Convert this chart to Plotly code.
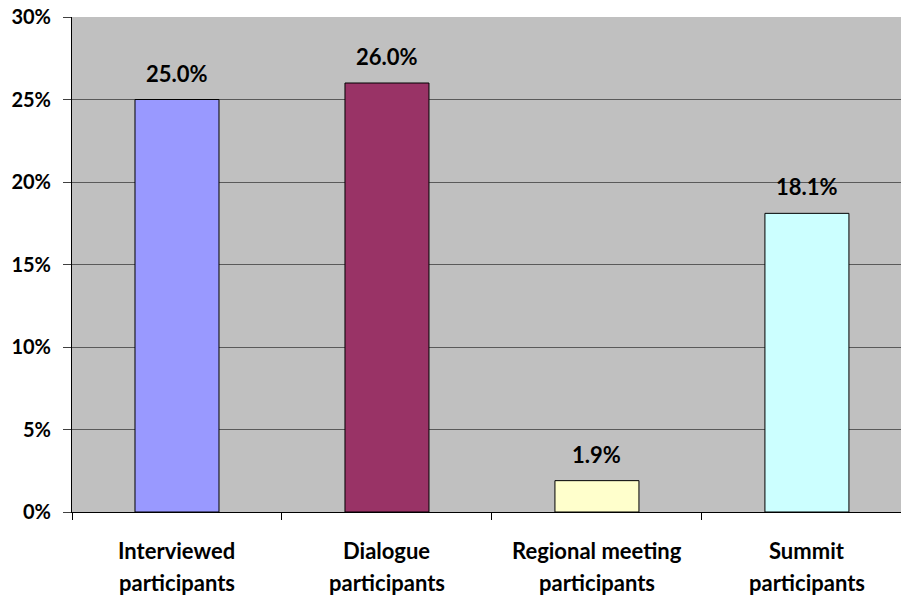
import plotly.graph_objects as go

categories = ["Interviewed participants", "Dialogue participants",
              "Regional meeting participants", "Summit participants"]
label_line1 = ["Interviewed", "Dialogue", "Regional meeting", "Summit"]
label_line2 = ["participants", "participants", "participants", "participants"]
values = [25.0, 26.0, 1.9, 18.1]
colors = ["#9999FF", "#993366", "#FFFFCC", "#CCFFFF"]
y_ticks = [0, 5, 10, 15, 20, 25, 30]
y_ticktext = ["0%", "5%", "10%", "15%", "20%", "25%", "30%"]

FONT = "Lato, 'Open Sans', sans-serif"

fig = go.Figure()
fig.add_trace(go.Bar(
    x=categories, y=values,
    marker=dict(color=colors, line=dict(color="#000000", width=1)),
    width=0.4,
    hoverinfo="skip",
))

annotations = []
for c, v in zip(categories, values):
    annotations.append(dict(
        x=c, y=v, xref="x", yref="y", text=f"<b>{v:.1f}%</b>",
        showarrow=False, yanchor="bottom", yshift=11,
        font=dict(family=FONT, size=22, color="#000000"),
    ))
for c, l1, l2 in zip(categories, label_line1, label_line2):
    annotations.append(dict(
        x=c, y=0, xref="x", yref="paper", text=f"<b>{l1}</b>",
        showarrow=False, yanchor="middle", yshift=-38,
        font=dict(family=FONT, size=22, color="#000000"),
    ))
    annotations.append(dict(
        x=c, y=0, xref="x", yref="paper", text=f"<b>{l2}</b>",
        showarrow=False, yanchor="middle", yshift=-70,
        font=dict(family=FONT, size=22, color="#000000"),
    ))

fig.update_layout(
    width=901, height=596,
    margin=dict(l=72, r=0, t=17, b=84, pad=0),
    paper_bgcolor="#FFFFFF",
    plot_bgcolor="#C0C0C0",
    showlegend=False,
    annotations=annotations,
    xaxis=dict(
        type="category", showticklabels=False,
        range=[-0.5, 3.448],
        ticks="outside", tickson="boundaries", ticklen=7,
        tickcolor="#000000", tickwidth=1,
        showline=True, linecolor="#000000", linewidth=1,
        showgrid=False, zeroline=False,
    ),
    yaxis=dict(
        range=[0, 30], tickvals=y_ticks, ticktext=y_ticktext,
        ticks="outside", ticklen=8, tickcolor="#404040", tickwidth=1,
        ticklabelstandoff=8,
        showline=True, linecolor="#000000", linewidth=1,
        showgrid=True, gridcolor="#5A5A5A", gridwidth=1,
        zeroline=False,
        tickfont=dict(family=FONT, size=20, color="#000000", weight="bold"),
    ),
)

fig.write_html("out.html")
